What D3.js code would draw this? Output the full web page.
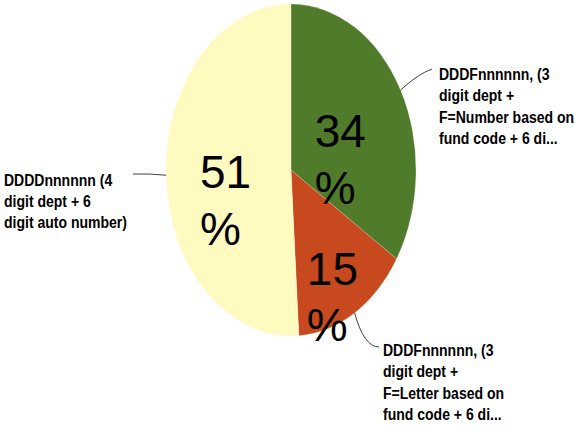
<!DOCTYPE html>
<html>
<head>
<meta charset="utf-8">
<script src="https://cdn.jsdelivr.net/npm/d3@7"></script>
<style>
  html, body { margin: 0; padding: 0; background: #ffffff; }
  svg { display: block; }
  .pct { font-family: "Liberation Sans", Arial, sans-serif; font-size: 46px; fill: #000; }
  .cat { font-family: "Liberation Sans", Arial, sans-serif;
         font-weight: bold; font-size: 16.5px; fill: #000; }
</style>
</head>
<body>
<script>
// Share of account-number formats
const categories = [
  "DDDFnnnnnn, (3 digit dept + F=Number based on fund code + 6 di...",
  "DDDFnnnnnn, (3 digit dept + F=Letter based on fund code + 6 di...",
  "DDDDnnnnnn (4 digit dept + 6 digit auto number)"
];
const values = [34, 15, 51];
const percentLabels = ["34\n%", "15\n%", "51\n%"];
const categoryLines = [
  ["DDDFnnnnnn, (3", "digit dept +", "F=Number based on", "fund code + 6 di..."],
  ["DDDFnnnnnn, (3", "digit dept +", "F=Letter based on", "fund code + 6 di..."],
  ["DDDDnnnnnn (4", "digit dept + 6", "digit auto number)"]
];
const colors = ["#4f7b2a", "#c8491d", "#fffac0"];

const W = 574, H = 430;
const cx = 291, cy = 170, rx = 125, ry = 166;
const R = 100; // arc radius before the elliptical stretch

const svg = d3.select("body").append("svg").attr("width", W).attr("height", H);

const pie = d3.pie().value(d => d).sort(null);
const arcs = pie(values);
const arc = d3.arc().innerRadius(0).outerRadius(R);

// Slices: drawn on a circle, then stretched into the ellipse
svg.append("g")
  .attr("transform", `translate(${cx},${cy}) scale(${rx / R},${ry / R})`)
  .selectAll("path")
  .data(arcs)
  .join("path")
  .attr("d", arc)
  .attr("fill", (d, i) => colors[i])
  .attr("stroke", "#ffffff")
  .attr("stroke-opacity", 0.35)
  .attr("stroke-width", 0.4);

// point on the ellipse at a pie angle and radius fraction
function ellPoint(a, f) {
  return [cx + rx * f * Math.sin(a), cy - ry * f * Math.cos(a)];
}

// Percent labels, two left-aligned lines each
const pctNudge = [[-31, 17], [-16, 43.5], [-28.5, 15.4]];
const pctLine = 56.5;
arcs.forEach((d, i) => {
  const mid = (d.startAngle + d.endAngle) / 2;
  const [px, py] = ellPoint(mid, 0.5);
  const x = px + pctNudge[i][0], y = py + pctNudge[i][1];
  const t = svg.append("text").attr("class", "pct").attr("x", x).attr("y", y);
  percentLabels[i].split("\n").forEach((s, j) => {
    t.append("tspan").attr("x", x).attr("y", y + j * pctLine).text(s);
  });
});

// Leader lines from the slice edge to each category label
const leaderEnd = [[432, 69], [379, 347], [133, 174]];
const leaderCtrl = [[418, 74], [364, 347], [150, 173.5]];
arcs.forEach((d, i) => {
  const mid = (d.startAngle + d.endAngle) / 2;
  const [sx, sy] = ellPoint(mid, 1);
  const p = d3.path();
  p.moveTo(sx, sy);
  p.quadraticCurveTo(leaderCtrl[i][0], leaderCtrl[i][1], leaderEnd[i][0], leaderEnd[i][1]);
  svg.append("path").attr("d", p.toString())
    .attr("fill", "none").attr("stroke", "#404040").attr("stroke-width", 1);
});

// Category labels, set in a condensed bold face
const catPos = [[439, 80], [383, 356], [4, 185.5]];
const catLine = 21.5;
const condense = 0.85;
categoryLines.forEach((lines, i) => {
  const g = svg.append("g")
    .attr("transform", `translate(${catPos[i][0]},${catPos[i][1]}) scale(${condense},1)`);
  const t = g.append("text").attr("class", "cat");
  lines.forEach((s, j) => {
    t.append("tspan").attr("x", 0).attr("y", j * catLine).text(s);
  });
});
</script>
</body>
</html>
